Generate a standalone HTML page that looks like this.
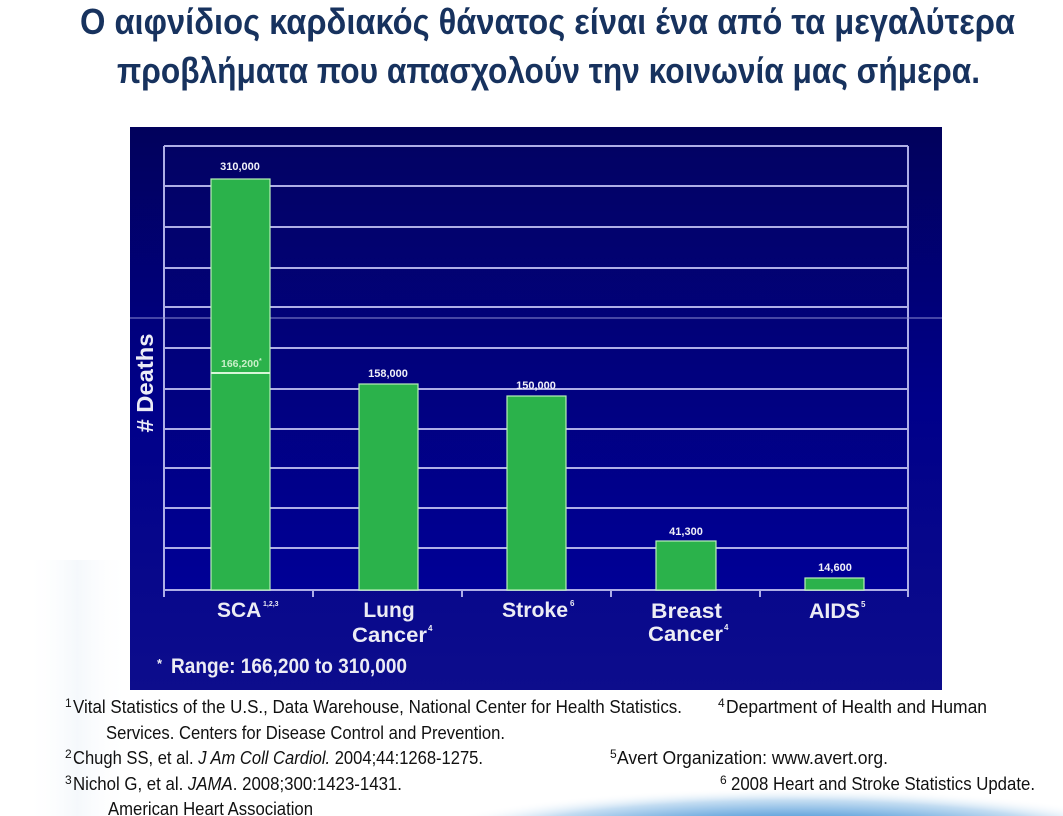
<!DOCTYPE html>
<html><head><meta charset="utf-8">
<style>
html,body{margin:0;padding:0;background:#fff;width:1063px;height:816px;overflow:hidden;}
svg{display:block;}
</style></head>
<body>
<svg width="1063" height="816" viewBox="0 0 1063 816" xmlns="http://www.w3.org/2000/svg" overflow="hidden">
<defs>
<linearGradient id="panel" x1="0" y1="0" x2="0" y2="1">
<stop offset="0" stop-color="#01015c"/>
<stop offset="0.5" stop-color="#00008a"/>
<stop offset="1" stop-color="#0d0d8c"/>
</linearGradient>
<linearGradient id="plot" x1="0" y1="0" x2="0" y2="1">
<stop offset="0" stop-color="#020264"/>
<stop offset="1" stop-color="#000096"/>
</linearGradient>
<linearGradient id="leftfade" x1="0" y1="0" x2="1" y2="0">
<stop offset="0" stop-color="#ffffff" stop-opacity="0"/>
<stop offset="0.5" stop-color="#eef4fa" stop-opacity="0.6"/>
<stop offset="1" stop-color="#ffffff" stop-opacity="0"/>
</linearGradient>
<radialGradient id="swoosh" cx="0.5" cy="0.5" r="0.5">
<stop offset="0" stop-color="#2f7cc6"/>
<stop offset="0.55" stop-color="#6aa8de"/>
<stop offset="0.8" stop-color="#c4ddf2"/>
<stop offset="1" stop-color="#ffffff" stop-opacity="0"/>
</radialGradient>
</defs>

<!-- background decorations -->
<rect x="25" y="560" width="105" height="256" fill="url(#leftfade)"/>
<ellipse cx="790" cy="850" rx="400" ry="62" fill="url(#swoosh)"/>

<!-- Title -->
<g font-family="'Liberation Sans', 'DejaVu Sans', sans-serif" font-weight="bold" font-size="36" fill="#17325e">
<text x="80" y="34" textLength="935" lengthAdjust="spacingAndGlyphs">Ο αιφνίδιος καρδιακός θάνατος είναι ένα από τα μεγαλύτερα</text>
<text x="117" y="83" textLength="863" lengthAdjust="spacingAndGlyphs">προβλήματα που απασχολούν την κοινωνία μας σήμερα.</text>
</g>

<!-- Chart panel -->
<rect x="130" y="127" width="812" height="563" fill="url(#panel)"/>
<rect x="164" y="146" width="744" height="444" fill="url(#plot)"/>

<!-- grid lines -->
<g stroke="#aeaee6" stroke-width="2" fill="none">
<line x1="164" y1="146" x2="908" y2="146"/>
<line x1="164" y1="186" x2="908" y2="186"/>
<line x1="164" y1="227" x2="908" y2="227"/>
<line x1="164" y1="268" x2="908" y2="268"/>
<line x1="164" y1="307" x2="908" y2="307"/>
<line x1="164" y1="348" x2="908" y2="348"/>
<line x1="164" y1="389" x2="908" y2="389"/>
<line x1="164" y1="429" x2="908" y2="429"/>
<line x1="164" y1="468" x2="908" y2="468"/>
<line x1="164" y1="508" x2="908" y2="508"/>
<line x1="164" y1="548" x2="908" y2="548"/>
<line x1="164" y1="590" x2="908" y2="590"/>
<line x1="164" y1="146" x2="164" y2="597"/>
<line x1="908" y1="146" x2="908" y2="597"/>
<line x1="313" y1="590" x2="313" y2="597"/>
<line x1="462" y1="590" x2="462" y2="597"/>
<line x1="611" y1="590" x2="611" y2="597"/>
<line x1="760" y1="590" x2="760" y2="597"/>
</g>
<line x1="130" y1="318" x2="942" y2="318" stroke="#8c8cd0" stroke-width="1"/>

<!-- bars -->
<g fill="#2bb24b" stroke="#b8f0b8" stroke-width="1.2">
<rect x="211" y="179" width="59" height="411"/>
<rect x="359" y="384" width="59" height="206"/>
<rect x="507" y="396" width="59" height="194"/>
<rect x="656" y="541" width="60" height="49"/>
<rect x="805" y="578" width="59" height="12"/>
</g>
<line x1="211" y1="373" x2="270" y2="373" stroke="#d8f6d8" stroke-width="2"/>

<!-- value labels -->
<g font-family="'Liberation Sans', sans-serif" font-weight="bold" font-size="11" fill="#f0f0f8" text-anchor="middle">
<text x="240" y="170">310,000</text>
<text x="388" y="377">158,000</text>
<text x="536" y="389">150,000</text>
<text x="686" y="535">41,300</text>
<text x="835" y="571">14,600</text>
</g>
<text x="221" y="367" font-family="'Liberation Sans', sans-serif" font-weight="bold" font-size="10.5" fill="#c8efc8">166,200<tspan font-size="7" dy="-4">*</tspan></text>

<!-- y axis title -->
<text transform="translate(153,383) rotate(-90)" text-anchor="middle" font-family="'Liberation Sans', sans-serif" font-weight="bold" font-size="23" fill="#ececf6" textLength="99" lengthAdjust="spacingAndGlyphs"># Deaths</text>

<!-- category labels -->
<g font-family="'Liberation Sans', sans-serif" font-weight="bold" font-size="21" fill="#ececf4">
<text x="217" y="617">SCA</text>
<text x="263" y="606" font-size="7">1,2,3</text>
<text x="389" y="617" text-anchor="middle">Lung</text>
<text x="352" y="642" textLength="75" lengthAdjust="spacingAndGlyphs">Cancer</text>
<text x="428" y="631" font-size="8">4</text>
<text x="502" y="617" textLength="66" lengthAdjust="spacingAndGlyphs">Stroke</text>
<text x="570" y="606" font-size="8">6</text>
<text x="651" y="618" textLength="71" lengthAdjust="spacingAndGlyphs">Breast</text>
<text x="648" y="641" textLength="75" lengthAdjust="spacingAndGlyphs">Cancer</text>
<text x="724" y="630" font-size="8">4</text>
<text x="809" y="618" textLength="51" lengthAdjust="spacingAndGlyphs">AIDS</text>
<text x="861" y="607" font-size="8">5</text>
<text x="157" y="668" font-size="13">*</text>
<text x="171" y="673" textLength="236" lengthAdjust="spacingAndGlyphs">Range: 166,200 to 310,000</text>
</g>

<!-- footnotes -->
<g font-family="'Liberation Sans', sans-serif" font-size="18" fill="#111">
<text x="65" y="707" font-size="12">1</text>
<text x="73" y="713" textLength="609" lengthAdjust="spacingAndGlyphs">Vital Statistics of the U.S., Data Warehouse, National Center for Health Statistics.</text>
<text x="718" y="707" font-size="12">4</text>
<text x="726" y="713" textLength="261" lengthAdjust="spacingAndGlyphs">Department of Health and Human</text>
<text x="106" y="739" textLength="399" lengthAdjust="spacingAndGlyphs">Services. Centers for Disease Control and Prevention.</text>
<text x="65" y="758" font-size="12">2</text>
<text x="73" y="764" textLength="410" lengthAdjust="spacingAndGlyphs">Chugh SS, et  al. <tspan font-style="italic">J Am Coll Cardiol.</tspan> 2004;44:1268-1275.</text>
<text x="610" y="758" font-size="12">5</text>
<text x="617" y="764" textLength="271" lengthAdjust="spacingAndGlyphs">Avert Organization: www.avert.org.</text>
<text x="65" y="784" font-size="12">3</text>
<text x="73" y="790" textLength="329" lengthAdjust="spacingAndGlyphs">Nichol G, et al. <tspan font-style="italic">JAMA</tspan>. 2008;300:1423-1431.</text>
<text x="720" y="784" font-size="12">6</text>
<text x="731" y="790" textLength="304" lengthAdjust="spacingAndGlyphs">2008 Heart and Stroke Statistics Update.</text>
<text x="108" y="815" textLength="205" lengthAdjust="spacingAndGlyphs">American Heart Association</text>
</g>
</svg>
</body></html>
